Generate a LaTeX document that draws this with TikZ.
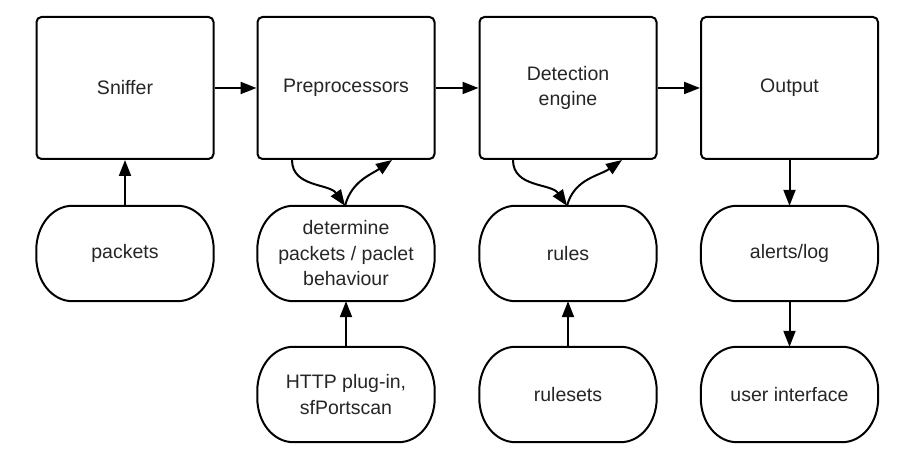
\documentclass[tikz,border=0pt]{standalone}
\usepackage{fontspec}
\setmainfont{Liberation Sans}
\usetikzlibrary{arrows.meta}
\tikzset{
  line/.style={line width=2pt, black},
  conn/.style={line, -{Triangle[length=16pt,width=12pt]}},
  block/.style={line, draw, rounded corners=5pt, minimum width=177pt, minimum height=142pt, inner sep=0pt, align=center, text=black!85, font=\fontsize{19.5}{25.5}\selectfont},
  stadium/.style={draw=none, minimum width=177pt, minimum height=95pt, inner sep=0pt, align=center, text=black!85, font=\fontsize{19.5}{25.5}\selectfont},
}
\newcommand\stadiumpath[1]{%
  \draw[line] ([xshift=36pt]#1.north west) -- ([xshift=-36pt]#1.north east)
    arc[start angle=90, end angle=0, x radius=36pt, y radius=44pt]
    -- ([yshift=44pt]#1.south east)
    arc[start angle=0, end angle=-90, x radius=36pt, y radius=44pt]
    -- ([xshift=36pt]#1.south west)
    arc[start angle=-90, end angle=-180, x radius=36pt, y radius=44pt]
    -- ([yshift=-44pt]#1.north west)
    arc[start angle=180, end angle=90, x radius=36pt, y radius=44pt] -- cycle;}
\begin{document}
\begin{tikzpicture}[x=1pt,y=1pt]
\useasboundingbox[fill=white] (0,0) rectangle (904,462);
\node[block] (sn) at (125,374) {Sniffer};
\node[block] (pre) at (346,374) {Preprocessors};
\node[block] (de) at (568,374) {Detection\\engine};
\node[block] (out) at (789.5,374) {Output};
\node[stadium] (pk) at (125,208.5) {packets};
\node[stadium] (dp) at (346,208.5) {determine\\packets / paclet\\behaviour};
\node[stadium] (ru) at (568,208.5) {rules};
\node[stadium] (al) at (789.5,208.5) {alerts/log};
\node[stadium] (http) at (346,67.5) {HTTP plug-in,\\sfPortscan};
\node[stadium] (rs) at (568,67.5) {rulesets};
\node[stadium] (ui) at (789.5,67.5) {user interface};
\foreach \n in {pk,dp,ru,al,http,rs,ui} {\stadiumpath{\n}}
\draw[conn] (sn) -- (pre);
\draw[conn] (pre) -- (de);
\draw[conn] (de) -- (out);
\draw[conn] (pk) -- (sn);
\draw[conn] (http) -- (dp);
\draw[conn] (rs) -- (ru);
\draw[conn] (out) -- (al);
\draw[conn] (al) -- (ui);
\draw[conn] ([xshift=-54pt]pre.south) to[out=-90, in=125] ([xshift=-1pt]dp.north);
\draw[conn] ([xshift=-1pt]dp.north) to[out=75, in=-145] ([xshift=46pt]pre.south);
\draw[conn] ([xshift=-55pt]de.south) to[out=-90, in=125] ([xshift=-1pt]ru.north);
\draw[conn] ([xshift=-1pt]ru.north) to[out=75, in=-145] ([xshift=54pt]de.south);
\end{tikzpicture}
\end{document}
